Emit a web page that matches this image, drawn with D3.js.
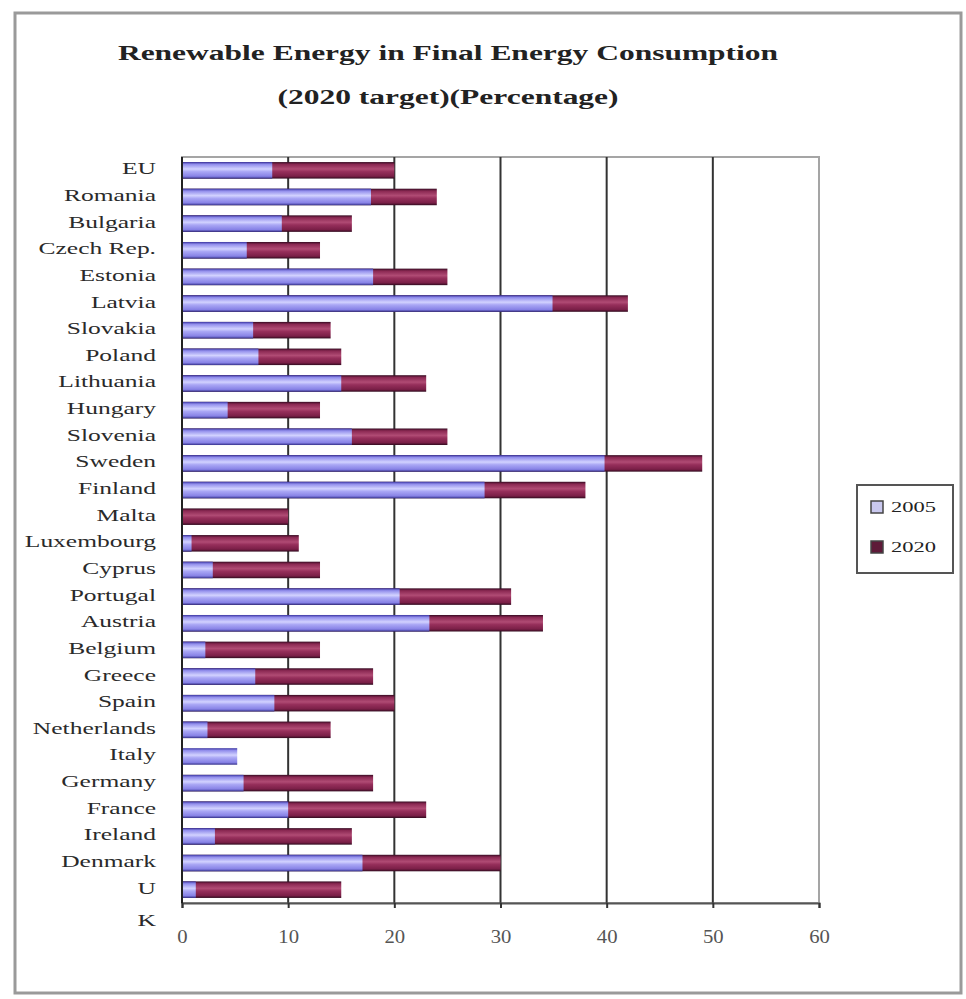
<!DOCTYPE html>
<html>
<head>
<meta charset="utf-8">
<script src="https://cdn.jsdelivr.net/npm/d3@7"></script>
<style>
  html, body { margin: 0; padding: 0; background: #fff; }
  svg { display: block; }
  text { font-family: "Liberation Serif", "Times New Roman", serif; fill: #222; }
</style>
</head>
<body>
<svg id="chart" width="966" height="999"></svg>
<script>
// Renewable energy share in final energy consumption, 2005 level and 2020 target (%)
const categories = ["EU", "Romania", "Bulgaria", "Czech Rep.", "Estonia", "Latvia", "Slovakia",
  "Poland", "Lithuania", "Hungary", "Slovenia", "Sweden", "Finland", "Malta", "Luxembourg",
  "Cyprus", "Portugal", "Austria", "Belgium", "Greece", "Spain", "Netherlands", "Italy",
  "Germany", "France", "Ireland", "Denmark", "UK"];
const share2005 = [8.5, 17.8, 9.4, 6.1, 18, 34.9, 6.7, 7.2, 15, 4.3, 16, 39.8, 28.5, 0, 0.9,
  2.9, 20.5, 23.3, 2.2, 6.9, 8.7, 2.4, 5.2, 5.8, 10, 3.1, 17, 1.3];
const target2020 = [20, 24, 16, 13, 25, 42, 14, 15, 23, 13, 25, 49, 38, 10, 11,
  13, 31, 34, 13, 18, 20, 14, null, 18, 23, 16, 30, 15];
const seriesNames = ["2005", "2020"];
const xTicks = [0, 10, 20, 30, 40, 50, 60];
const titleLines = ["Renewable Energy in Final Energy Consumption", "(2020 target)(Percentage)"];
// category names that break over two lines on the axis
const wrappedLabels = { "UK": ["U", "K"] };

const svg = d3.select("#chart");
const stretch = 1.5; // horizontal stretch applied to the lettering

// outer chart frame
svg.append("rect")
  .attr("x", 15).attr("y", 13).attr("width", 946).attr("height", 980)
  .attr("fill", "#fff").attr("stroke", "#9a9a9a").attr("stroke-width", 3);

const plot = { left: 182, right: 819, top: 157, bottom: 903 };

const x = d3.scaleLinear().domain([0, 60]).range([plot.left, plot.right]);
const y = d3.scaleBand().domain(categories).range([plot.top, plot.bottom])
  .paddingInner(0.38).paddingOuter(0.19);

// gradients for the bar fills
const defs = svg.append("defs");
function gradient(id, stops) {
  const g = defs.append("linearGradient").attr("id", id)
    .attr("x1", 0).attr("y1", 0).attr("x2", 0).attr("y2", 1);
  stops.forEach(([o, c]) => g.append("stop").attr("offset", o).attr("stop-color", c));
}
gradient("g2005", [[0, "#3a34a0"], [0.14, "#928eec"], [0.42, "#d2d2ff"], [0.58, "#aaa7f5"],
  [0.86, "#8782e6"], [1, "#34308a"]]);
gradient("g2020", [[0, "#360b22"], [0.14, "#8a2852"], [0.42, "#b04b74"], [0.58, "#962f5b"],
  [0.86, "#7a1f47"], [1, "#300a1e"]]);

// plot area border
svg.append("rect")
  .attr("x", plot.left).attr("y", plot.top)
  .attr("width", plot.right - plot.left).attr("height", plot.bottom - plot.top)
  .attr("fill", "#fff").attr("stroke", "#a5a5a5").attr("stroke-width", 2);

// vertical gridlines
svg.append("g").selectAll("line")
  .data(xTicks.filter(t => t > 0 && t < 60))
  .join("line")
  .attr("x1", d => x(d)).attr("x2", d => x(d))
  .attr("y1", plot.top).attr("y2", plot.bottom)
  .attr("stroke", "#333").attr("stroke-width", 2);

const rows = categories.map((c, i) => ({ c, v2005: share2005[i], v2020: target2020[i] }));

// 2020 target bars, with the 2005 level drawn over them
svg.append("g").selectAll("rect")
  .data(rows.filter(d => d.v2020 != null))
  .join("rect")
  .attr("x", x(0)).attr("y", d => y(d.c))
  .attr("width", d => x(d.v2020) - x(0)).attr("height", y.bandwidth())
  .attr("fill", "url(#g2020)");

svg.append("g").selectAll("rect")
  .data(rows.filter(d => d.v2005 > 0))
  .join("rect")
  .attr("x", x(0)).attr("y", d => y(d.c))
  .attr("width", d => x(d.v2005) - x(0)).attr("height", y.bandwidth())
  .attr("fill", "url(#g2005)");

// x axis
const xAxis = svg.append("g")
  .attr("transform", `translate(0,${plot.bottom})`)
  .call(d3.axisBottom(x).tickValues(xTicks).tickSize(5).tickFormat(d3.format("d")));
xAxis.select(".domain").attr("stroke", "#555").attr("stroke-width", 2);
xAxis.selectAll(".tick line").attr("stroke", "#333").attr("stroke-width", 2);
xAxis.selectAll(".tick text").remove();
xAxis.selectAll(".tick").append("text")
  .attr("transform", "translate(0,40) scale(1.15,1)")
  .attr("text-anchor", "middle")
  .attr("font-size", 18)
  .style("fill", "#555")
  .text(d => d);

// y axis line
svg.append("line")
  .attr("x1", plot.left).attr("x2", plot.left)
  .attr("y1", plot.top).attr("y2", plot.bottom)
  .attr("stroke", "#222").attr("stroke-width", 2);

// category labels
const labels = svg.append("g").selectAll("text")
  .data(categories)
  .join("text")
  .attr("transform", d => `translate(156,${y(d) + y.bandwidth() / 2 + 4}) scale(${stretch},1)`)
  .attr("text-anchor", "end")
  .attr("font-size", 17)
  .style("fill", "#2a2a2a");
labels.each(function (d) {
  const lines = wrappedLabels[d] || [d];
  const t = d3.select(this);
  lines.forEach((ln, i) => {
    t.append("tspan").attr("x", 0).attr("dy", i === 0 ? 0 : 32).text(ln);
  });
});

// title
svg.append("g").selectAll("text")
  .data(titleLines)
  .join("text")
  .attr("transform", (d, i) => `translate(448,${i === 0 ? 60 : 104}) scale(${stretch},1)`)
  .attr("text-anchor", "middle")
  .attr("font-size", 21)
  .attr("font-weight", "bold")
  .text(d => d);

// legend
const legend = svg.append("g").attr("transform", "translate(857,485)");
legend.append("rect")
  .attr("width", 96).attr("height", 88)
  .attr("fill", "#fff").attr("stroke", "#555").attr("stroke-width", 2);
const legendFill = ["#c9c8ee", "#5e1a38"];
seriesNames.forEach((s, i) => {
  const row = legend.append("g").attr("transform", `translate(14,${22 + i * 40})`);
  row.append("rect")
    .attr("x", 0).attr("y", -6).attr("width", 12).attr("height", 12)
    .attr("fill", legendFill[i]).attr("stroke", "#444").attr("stroke-width", 1.5);
  row.append("text")
    .attr("transform", `translate(20,5) scale(${stretch},1)`)
    .attr("font-size", 15)
    .text(s);
});
</script>
</body>
</html>
